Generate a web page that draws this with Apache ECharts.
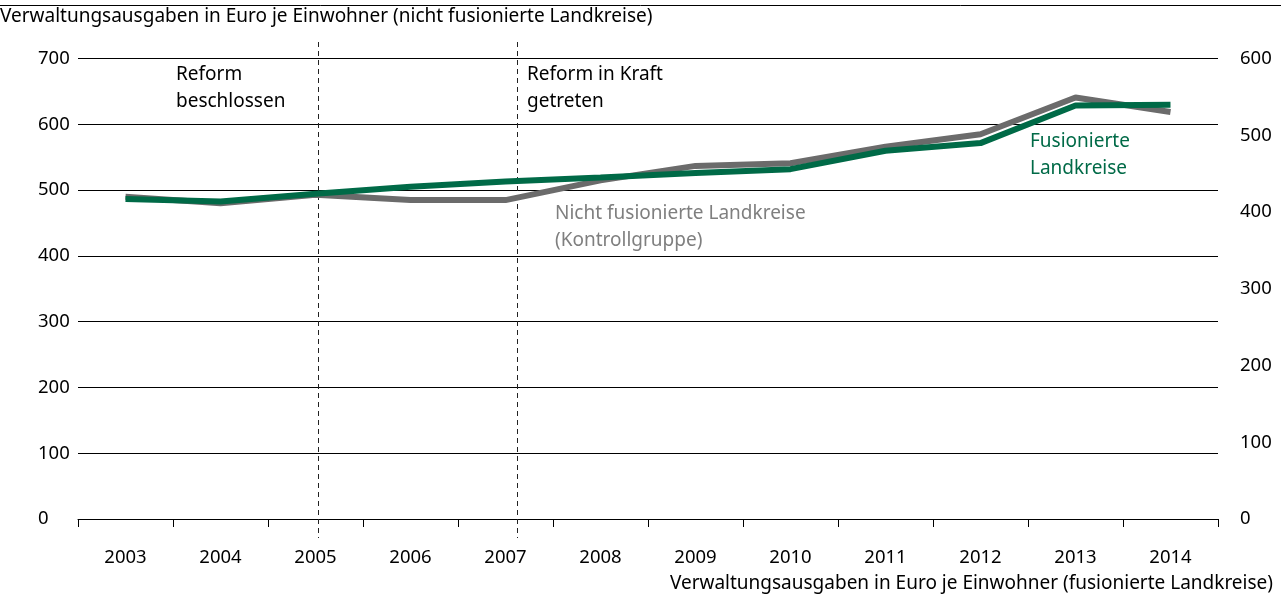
<!DOCTYPE html>
<html>
<head>
<meta charset="utf-8">
<script src="https://cdn.jsdelivr.net/npm/echarts@6/dist/echarts.min.js"></script>
<style>
  html, body {margin: 0; padding: 0; background: #fff;}
  #chart {width: 1281px; height: 601px;}
</style>
</head>
<body>
<div id="chart"></div>
<script>
const years = ['2003', '2004', '2005', '2006', '2007', '2008', '2009', '2010', '2011', '2012', '2013', '2014'];
// nicht fusionierte Landkreise (linke Achse)
const controlGroup = [490, 480, 493, 485, 485, 515, 537, 541, 566, 585, 641, 619];
// fusionierte Landkreise (rechte Achse)
const merged = [417, 414, 424, 433, 440, 445, 451, 456, 480, 490, 539, 540];
// Reformzeitpunkte auf der Kategorienskala (0 = linker Rand)
const reformMarks = [2.53, 4.62];

const FONT = 'Noto Sans';
const FS = 19;
const chart = echarts.init(document.getElementById('chart'));

const option = {
  animation: false,
  textStyle: {fontFamily: FONT},
  grid: {left: 78, right: 63, top: 58.7, bottom: 82},
  xAxis: [
    {
      type: 'category',
      data: years,
      boundaryGap: true,
      axisLine: {lineStyle: {color: '#000', width: 1}},
      axisTick: {show: true, inside: false, length: 8, lineStyle: {color: '#000'}},
      axisLabel: {color: '#000', fontSize: 18.5, margin: 29, fontFamily: FONT}
    },
    {
      type: 'value', min: 0, max: 12, show: false
    }
  ],
  yAxis: [
    {
      type: 'value', min: 0, max: 700, interval: 100,
      axisLine: {show: false}, axisTick: {show: false},
      splitLine: {lineStyle: {color: '#000', width: 1}},
      axisLabel: {color: '#000', fontSize: 18.5, align: 'left', margin: 40, fontFamily: FONT}
    },
    {
      type: 'value', min: 0, max: 600, interval: 100, position: 'right',
      axisLine: {show: false}, axisTick: {show: false}, splitLine: {show: false},
      axisLabel: {color: '#000', fontSize: 18.5, align: 'left', margin: 22, fontFamily: FONT}
    }
  ],
  series: [
    {
      type: 'line', name: 'Nicht fusionierte Landkreise', data: controlGroup,
      yAxisIndex: 0, symbol: 'none', z: 2,
      lineStyle: {color: '#6b6b6b', width: 6}
    },
    {
      type: 'line', name: 'Fusionierte Landkreise', data: merged,
      yAxisIndex: 1, symbol: 'none', z: 3,
      lineStyle: {color: '#006a47', width: 6}
    }
  ],
  graphic: [
    {type: 'line', shape: {x1: 0, y1: 5.5, x2: 1281, y2: 5.5}, style: {stroke: '#000', lineWidth: 1}},
    {type: 'text', left: 0, top: 7, style: {text: 'Verwaltungsausgaben in Euro je Einwohner (nicht fusionierte Landkreise)', font: FS + 'px ' + FONT, fill: '#000'}},
    {type: 'text', right: 8, top: 574, style: {text: 'Verwaltungsausgaben in Euro je Einwohner (fusionierte Landkreise)', font: FS + 'px ' + FONT, fill: '#000'}},
    {type: 'text', left: 176, top: 61, style: {text: 'Reform\nbeschlossen', font: FS + 'px ' + FONT, lineHeight: 27, fill: '#000'}},
    {type: 'text', left: 527, top: 61, style: {text: 'Reform in Kraft\ngetreten', font: FS + 'px ' + FONT, lineHeight: 27, fill: '#000'}},
    {type: 'text', left: 555, top: 200, style: {text: 'Nicht fusionierte Landkreise\n(Kontrollgruppe)', font: FS + 'px ' + FONT, lineHeight: 27, fill: '#7f7f7f'}},
    {type: 'text', left: 1030, top: 128, style: {text: 'Fusionierte\nLandkreise', font: FS + 'px ' + FONT, lineHeight: 27, fill: '#006a47'}}
  ]
};
chart.setOption(option);

// gestrichelte Reformlinien, über die Plotfläche hinaus
const dashLines = reformMarks.map(v => {
  const x = Math.round(chart.convertToPixel({xAxisIndex: 1}, v)) + 0.5;
  return {type: 'line', shape: {x1: x, y1: 42, x2: x, y2: 538}, style: {stroke: '#222', lineWidth: 1, lineDash: [5, 4]}, z: 1};
});
chart.setOption({graphic: option.graphic.concat(dashLines)});
</script>
</body>
</html>
